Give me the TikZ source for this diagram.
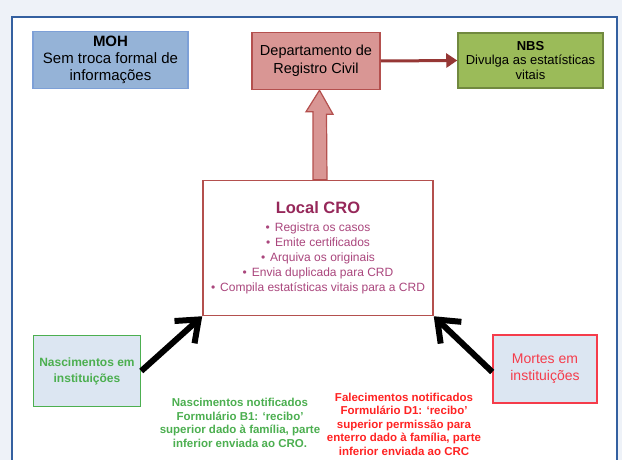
\documentclass[tikz,border=0pt]{standalone}
\usepackage{fontspec}
\setmainfont{Liberation Sans}
\usetikzlibrary{arrows.meta}
\usetikzlibrary{positioning}

\definecolor{pageBg}{RGB}{238,242,248}
\definecolor{frameBlue}{RGB}{52,96,160}
\definecolor{mohFill}{RGB}{149,179,215}
\definecolor{mohLine}{RGB}{125,160,215}
\definecolor{rcFill}{RGB}{217,150,148}
\definecolor{rcLine}{RGB}{180,80,78}
\definecolor{rcArrow}{RGB}{150,55,53}
\definecolor{nbsFill}{RGB}{155,187,89}
\definecolor{nbsLine}{RGB}{113,137,63}
\definecolor{croTitle}{RGB}{150,40,90}
\definecolor{croText}{RGB}{170,70,125}
\definecolor{instFill}{RGB}{220,230,242}
\definecolor{birthGreen}{RGB}{76,175,80}
\definecolor{deathRed}{RGB}{245,60,75}
\definecolor{noteRed}{RGB}{255,35,35}

\begin{document}
\begin{tikzpicture}
      [x=1pt,y=-1pt,
       orgBox/.style={rectangle,draw,line width=1.5pt,align=center,inner sep=2pt},
       instBox/.style={orgBox,fill=instFill},
       noteText/.style={align=center,font=\fontsize{11.5}{13.5}\selectfont\bfseries},
       feedArrow/.style={line width=6pt,-{Straight Barb[length=19pt,width=30pt]}},
       blockArrow/.style={fill=rcFill,draw=rcLine,line width=1.2pt,line join=miter}]
      \useasboundingbox (0,0) rectangle (622,460);
      \fill[pageBg] (0,0) rectangle (622,460);
      \draw[frameBlue,line width=2pt,fill=white] (12,17) rectangle (617,475);
      % top row
      \node[orgBox,fill=mohFill,draw=mohLine,minimum width=155pt,minimum height=57pt,
            font=\fontsize{15}{17}\selectfont] (moh) at (110.5,60) {\textbf{MOH}\\Sem troca formal de\\informações};
      \node[orgBox,fill=rcFill,draw=rcLine,minimum width=128pt,minimum height=57pt,
            font=\fontsize{14.5}{17.5}\selectfont] (dept) at (316,61) {Departamento de\\Registro Civil};
      \node[orgBox,fill=nbsFill,draw=nbsLine,minimum width=145pt,minimum height=55pt,
            font=\fontsize{13}{14.5}\selectfont] (nbs) at (530.5,60.5) {\textbf{NBS}\\Divulga as estatísticas\\vitais};
      % local office
      \node[orgBox,fill=white,draw=rcLine,minimum width=230pt,minimum height=135pt,text=croText,
            font=\fontsize{12}{15}\selectfont] (cro) at (318,248)
            {{\fontsize{16.5}{19}\selectfont\bfseries\color{croTitle}Local CRO}\\[3pt]
             \textbullet\hspace{5pt}Registra os casos\\
             \textbullet\hspace{5pt}Emite certificados\\
             \textbullet\hspace{5pt}Arquiva os originais\\
             \textbullet\hspace{5pt}Envia duplicada para CRD\\
             \textbullet\hspace{5pt}Compila estatísticas vitais para a CRD};
      % institutions
      \node[instBox,draw=birthGreen,text=birthGreen,minimum width=107pt,minimum height=71pt,
            font=\fontsize{12}{16}\selectfont\bfseries] (births) at (87,371) {Nascimentos em\\instituições};
      \node[instBox,draw=deathRed,text=deathRed,minimum width=104pt,minimum height=68pt,
            font=\fontsize{14}{17}\selectfont] (deaths) at (545,369) {Mortes em\\instituições};
      \node[noteText,text=birthGreen] (birthNote) at (240,423)
            {Nascimentos notificados\\Formulário B1: ‘recibo’\\superior dado à família, parte\\inferior enviada ao CRO.};
      \node[noteText,text=noteRed] (deathNote) at (404,424)
            {Falecimentos notificados\\Formulário D1: ‘recibo’\\superior permissão para\\enterro dado à família, parte\\inferior enviada ao CRC};
      % connectors
      \draw[rcArrow,line width=3pt,-{Triangle[length=11pt,width=14pt]}] (dept.east) -- (nbs.west);
      \draw[blockArrow] ([xshift=-5pt]cro.north) -- ++(0,-68) -- ++(-7,0) -- ([xshift=3.5pt]dept.south)
            -- ++(13.5,24) -- ++(-6.5,0) -- ([xshift=9pt]cro.north) -- cycle;
      \draw[feedArrow] (births.east) -- (cro.south west);
      \draw[feedArrow] ([yshift=-3pt]deaths.west) -- (cro.south east);
    \end{tikzpicture}
\end{document}
